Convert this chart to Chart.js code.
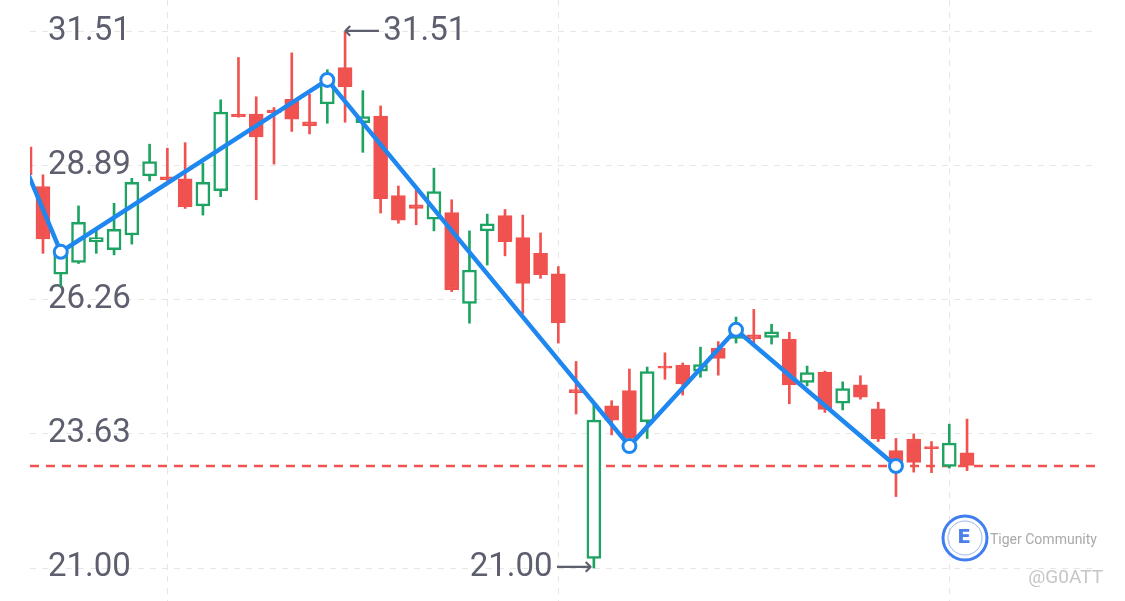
<!DOCTYPE html>
<html lang="en">
<head>
<meta charset="UTF-8">
<title>Candles with zigzag</title>
<script src="https://cdn.jsdelivr.net/npm/chart.js"></script>
<style>
  html, body { margin: 0; padding: 0; background: #fff; }
  #chart { display: block; }
</style>
</head>
<body>
<canvas id="chart" width="1125" height="601"></canvas>
<script>
// candle data, index 0 is the bar cut off at the left edge
const opens  = [29.26, 28.48, 26.76, 26.99, 27.40, 27.24, 27.53, 28.69, 28.67, 28.63,
                28.10, 28.40, 29.90, 29.90, 29.98, 30.19, 29.75, 30.10, 30.81, 29.73,
                29.86, 28.30, 28.12, 27.84, 27.97, 26.19, 27.61, 27.91, 27.48, 27.17,
                26.77, 24.50, 21.19, 24.18, 24.48, 23.87, 24.96, 24.98, 24.86, 25.31,
                25.50, 25.57, 25.52, 25.49, 24.64, 24.84, 24.23, 24.59, 24.12, 23.30,
                23.53, 23.38, 22.99, 23.26];
const highs  = [29.40, 28.71, 27.30, 28.10, 27.63, 28.15, 28.64, 29.31, 29.23, 29.34,
                28.94, 30.18, 31.01, 30.24, 30.03, 31.10, 30.29, 30.77, 31.51, 30.36,
                30.06, 28.49, 28.41, 28.84, 28.22, 27.61, 27.94, 28.03, 27.92, 27.57,
                26.91, 25.05, 24.23, 24.28, 24.90, 24.94, 25.22, 25.02, 25.33, 25.44,
                25.92, 26.07, 25.78, 25.62, 24.96, 24.86, 24.65, 24.77, 24.25, 23.54,
                23.63, 23.48, 23.82, 23.92];
const lows   = [28.50, 27.17, 26.52, 26.97, 27.17, 27.14, 27.35, 28.59, 28.60, 28.05,
                27.92, 28.28, 29.84, 28.22, 28.92, 29.56, 29.51, 29.72, 29.74, 29.15,
                27.96, 27.76, 27.73, 27.61, 26.42, 25.80, 26.94, 27.12, 25.99, 26.68,
                25.41, 24.02, 21.00, 23.61, 23.39, 23.54, 24.70, 24.39, 24.74, 24.78,
                25.41, 25.41, 25.39, 24.22, 24.57, 24.05, 24.10, 24.31, 23.48, 22.40,
                22.88, 22.87, 22.96, 22.91];
const closes = [28.71, 27.45, 27.24, 27.78, 27.48, 27.64, 28.56, 28.97, 28.61, 28.08,
                28.56, 29.94, 29.85, 29.45, 29.93, 29.80, 29.67, 30.54, 30.44, 29.85,
                28.24, 27.82, 28.05, 28.38, 26.45, 26.84, 27.75, 27.40, 26.58, 26.75,
                25.81, 24.44, 23.90, 23.90, 23.54, 24.85, 24.92, 24.61, 24.99, 25.11,
                25.73, 25.49, 25.63, 24.59, 24.83, 24.11, 24.52, 24.35, 23.53, 23.08,
                23.07, 23.34, 23.45, 23.01];

// zigzag turning points (first one lies left of the visible window)
const pivotIndex  = [-2, 2, 17, 34, 40, 49];
const pivotValues = [30.52, 27.20, 30.57, 23.39, 25.67, 23.00];

const lastPrice = 23.00;
const yTicks = [21.00, 23.63, 26.26, 28.89, 31.51];
const xGridAt = [8, 30, 52];

const RED = '#f0534f';
const GREEN = '#1ea462';
const BLUE = '#1f87f0';
const LABEL = '#5d5f6e';
const X_MIN = 0.27, X_MAX = 60.2;
const Y_MIN = 20.353, Y_MAX = 32.137;

const up = opens.map((o, i) => closes[i] >= o);

const markExtremes = {
    id: 'markExtremes',
    afterDatasetsDraw(chart) {
        const {ctx, scales: {x, y}} = chart;
        let hi = 0, lo = 0;
        highs.forEach((h, i) => { if (h > highs[hi]) hi = i; });
        lows.forEach((l, i) => { if (l < lows[lo]) lo = i; });
        const numFont = '33px Roboto, sans-serif';
        const arrowFont = '26px "DejaVu Sans", sans-serif';
        ctx.save();
        ctx.fillStyle = LABEL;
        ctx.textBaseline = 'middle';

        // high: arrow then value, starting at the wick
        let px = x.getPixelForValue(hi) - 2, py = y.getPixelForValue(highs[hi]);
        ctx.textAlign = 'left';
        ctx.font = arrowFont;
        ctx.fillText('\u27f5', px, py);
        px += ctx.measureText('\u27f5').width + 3;
        ctx.font = numFont;
        ctx.fillText(highs[hi].toFixed(2), px, py);

        // low: value then arrow, ending at the wick
        px = x.getPixelForValue(lo) - 1; py = y.getPixelForValue(lows[lo]);
        ctx.textAlign = 'right';
        ctx.font = arrowFont;
        ctx.fillText('\u27f6', px, py);
        px -= ctx.measureText('\u27f6').width + 3;
        ctx.font = numFont;
        ctx.fillText(lows[lo].toFixed(2), px, py);
        ctx.restore();
    }
};

const watermark = {
    id: 'watermark',
    afterDraw(chart) {
        const ctx = chart.ctx;
        ctx.save();
        ctx.strokeStyle = '#3f7df0';
        ctx.lineWidth = 3;
        ctx.beginPath(); ctx.arc(965, 538, 22, 0, Math.PI * 2); ctx.stroke();
        ctx.strokeStyle = '#9bb8ee';
        ctx.lineWidth = 1;
        ctx.beginPath(); ctx.arc(965, 538, 17, 0, Math.PI * 2); ctx.stroke();
        ctx.fillStyle = '#4a7fe8';
        ctx.font = 'bold 20px "DejaVu Sans", sans-serif';
        ctx.textAlign = 'center';
        ctx.textBaseline = 'middle';
        ctx.fillText('E', 964, 538);
        ctx.fillStyle = '#a9a9a9';
        ctx.font = '14px Roboto, sans-serif';
        ctx.textAlign = 'left';
        ctx.fillText('Tiger Community', 990, 540);
        ctx.fillStyle = '#c6c6c6';
        ctx.font = '19px Roboto, sans-serif';
        ctx.textAlign = 'right';
        ctx.fillText('@G0ATT', 1103, 578);
        ctx.restore();
    }
};

new Chart(document.getElementById('chart'), {
    type: 'bar',
    data: {
        datasets: [
            {
                type: 'line',
                data: pivotIndex.map((v, i) => ({x: v, y: pivotValues[i]})),
                borderColor: BLUE,
                borderWidth: 4.5,
                tension: 0,
                pointRadius: pivotIndex.map(v => v < X_MIN ? 0 : 6.5),
                pointBackgroundColor: '#fff',
                pointBorderColor: BLUE,
                pointBorderWidth: 3,
                clip: 0,
                order: 0
            },
            {
                data: opens.map((o, i) => ({x: i, y: [o, closes[i]]})),
                backgroundColor: up.map(u => u ? '#fff' : RED),
                borderColor: up.map(u => u ? GREEN : RED),
                borderWidth: 2.5,
                borderSkipped: false,
                barThickness: 14,
                grouped: false,
                clip: 0,
                order: 2
            },
            {
                data: lows.map((l, i) => ({x: i, y: [l, highs[i]]})),
                backgroundColor: up.map(u => u ? GREEN : RED),
                borderWidth: 0,
                barThickness: 2,
                grouped: false,
                clip: 0,
                order: 3
            },
            {
                type: 'line',
                data: [{x: X_MIN, y: lastPrice}, {x: X_MAX, y: lastPrice}],
                borderColor: RED,
                borderWidth: 2.5,
                borderDash: [9, 7],
                pointRadius: 0,
                clip: 0,
                order: 4
            }
        ]
    },
    options: {
        responsive: false,
        animation: false,
        events: [],
        layout: {autoPadding: false, padding: {left: 0, right: 30, top: 0, bottom: 0}},
        plugins: {legend: {display: false}, tooltip: {enabled: false}},
        scales: {
            x: {
                type: 'linear',
                min: X_MIN,
                max: X_MAX,
                offset: false,
                afterBuildTicks: s => { s.ticks = xGridAt.map(v => ({value: v})); },
                ticks: {display: false},
                grid: {color: '#e6e6e6', lineWidth: 1, drawTicks: false, offset: false},
                border: {display: false, dash: [6, 6]}
            },
            y: {
                type: 'linear',
                min: Y_MIN,
                max: Y_MAX,
                afterBuildTicks: s => { s.ticks = yTicks.map(v => ({value: v})); },
                afterFit: s => { s.width = 30; s.paddingTop = 0; s.paddingBottom = 0; },
                ticks: {
                    mirror: true,
                    padding: 18,
                    autoSkip: false,
                    color: LABEL,
                    font: {family: 'Roboto', size: 33},
                    callback: v => v.toFixed(2)
                },
                grid: {color: '#e6e6e6', lineWidth: 1, drawTicks: false},
                border: {display: false, dash: [6, 6]}
            }
        }
    },
    plugins: [markExtremes, watermark]
});
</script>
</body>
</html>
